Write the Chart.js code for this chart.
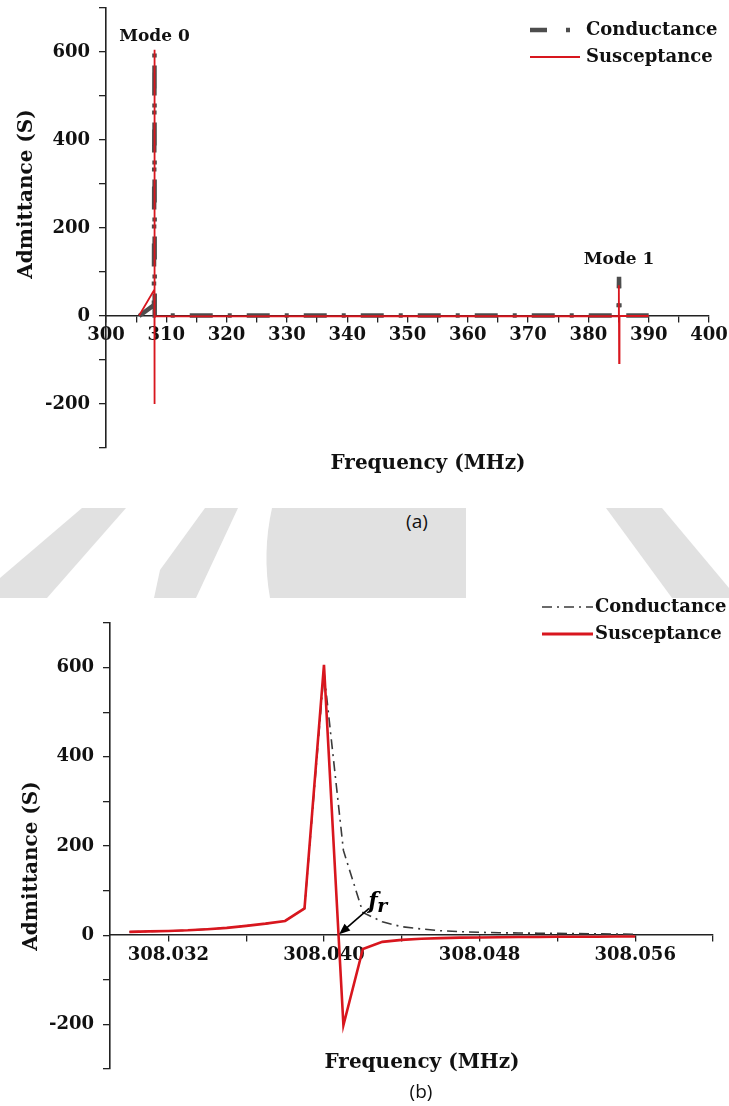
<!DOCTYPE html>
<html><head><meta charset="utf-8">
<script src="https://cdn.jsdelivr.net/npm/chart.js@4.4.1/dist/chart.umd.min.js"></script>
<style>
html,body{margin:0;padding:0;background:#fff;width:729px;height:1106px;overflow:hidden;}
body{position:relative;}
#wm{position:absolute;left:0;top:0;}
#c1{position:absolute;left:0;top:0;}
#c2{position:absolute;left:0;top:592px;}
.cap{position:absolute;font-family:'Open Sans';font-size:19px;color:#111;text-align:center;width:60px;line-height:26px;}
</style></head><body>
<svg id="wm" width="729" height="1106">
  <polygon points="82,508 126,508 47,598 0,598 0,578" fill="#e1e1e1"/>
  <polygon points="205,508 238,508 196,598 154,598 160,570" fill="#e1e1e1"/>
  <path d="M272,508 L466,508 L466,598 L270,598 Q262,553 272,508 Z" fill="#e1e1e1"/>
  <polygon points="606,508 662,508 729,588 729,598 672,598" fill="#e1e1e1"/>
</svg>
<canvas id="c1" width="729" height="500"></canvas>
<canvas id="c2" width="729" height="514"></canvas>
<div class="cap" style="left:387px;top:508px;">(a)</div>
<div class="cap" style="left:391px;top:1078px;">(b)</div>
<script>
// ---------- Chart (a): wide band ----------
const topCondFreq = [305.5, 307.95, 308.04, 308.08, 385.0, 385.08, 385.16, 390.0];
const topCondVal  = [0, 25, 600, 1, 1, 89, 1, 1];
const topSuscFreq = [305.5, 308.03, 308.04, 308.041, 308.08, 385.0, 385.05, 385.1, 385.16, 390.0];
const topSuscVal  = [1, 60, 605, -200, -1, 0, 70, -107, 0, 0];
const topXTicks   = [300,305,310,315,320,325,330,335,340,345,350,355,360,365,370,375,380,385,390,395,400];
const topXLabels  = [300,310,320,330,340,350,360,370,380,390,400];
const yTicks      = [-300,-200,-100,0,100,200,300,400,500,600,700];
const yLabels     = [-200,0,200,400,600];
const modeNames   = ['Mode 0','Mode 1'];
const modeFreq    = [308.04, 385.08];
const modeLabelY  = [635, 129];

// ---------- Chart (b): zoom on mode 0 ----------
const freqB = [308.030,308.031,308.032,308.033,308.034,308.035,308.036,308.037,308.038,308.039,
               308.040,308.041,308.042,308.043,308.044,308.045,308.046,308.047,308.048,308.049,
               308.050,308.051,308.052,308.053,308.054,308.055,308.056];
const suscB = [7.5,8.5,9.5,11,13.5,16.5,21,26,32,60,
               606,-202,-31,-15,-10.5,-8,-6.5,-5.5,-5,-4.5,
               -4,-4,-3.5,-3.5,-3.5,-3,-3];
const condB = [7.5,8.5,9.5,11,13.5,16.5,21,26,32,60,
               590,190,51,30,19,14,10,8,6.5,5.5,
               5,4.5,4,3.5,3,2.5,2];
const botXTicks  = [308.032,308.036,308.040,308.044,308.048,308.052,308.056,308.060];
const botXLabels = ['308.032','308.040','308.048','308.056'];
const frArrow    = {tipX:308.04078, tipY:2, tailX:308.04232, tailY:60, textX:308.04228, textY:62};

const RED = '#d8161e';
const SERIF = '"DejaVu Serif"';
const TXT = '#111';

function pts(xs, ys){ return xs.map((x,i)=>({x:x, y:ys[i]})); }

const deco = {
  id:'deco',
  afterDraw(chart, args, o){
    const ctx = chart.ctx;
    ctx.save();
    ctx.fillStyle = TXT;
    ctx.font = 'bold 20px ' + SERIF;
    ctx.textAlign = 'center'; ctx.textBaseline = 'middle';
    ctx.fillText(o.xTitle, o.xTitlePos[0], o.xTitlePos[1]);
    ctx.save();
    ctx.translate(o.yTitlePos[0], o.yTitlePos[1]);
    ctx.rotate(-Math.PI/2);
    ctx.fillText(o.yTitle, 0, 0);
    ctx.restore();
    const L = o.legend;
    L.order.forEach((di, k) => {
      const ds = chart.data.datasets[di];
      const y = L.y + k*L.dy;
      ctx.save();
      ctx.strokeStyle = ds.borderColor;
      ctx.lineWidth = L.lw[k];
      ctx.lineCap = 'butt';
      ctx.setLineDash(L.dash[k] || []);
      ctx.beginPath(); ctx.moveTo(L.x0, y); ctx.lineTo(L.x1[k], y); ctx.stroke();
      ctx.restore();
      ctx.fillStyle = TXT;
      ctx.font = 'bold 18px ' + SERIF;
      ctx.textAlign = 'left'; ctx.textBaseline = 'middle';
      ctx.fillText(ds.label, L.tx, y);
    });
    const xs = chart.scales.x, ys = chart.scales.y;
    if (o.modes) {
      ctx.font = 'bold 17px ' + SERIF;
      ctx.textAlign = 'center'; ctx.textBaseline = 'middle';
      o.modes.names.forEach((n,i)=>{
        ctx.fillText(n, xs.getPixelForValue(o.modes.freq[i]), ys.getPixelForValue(o.modes.y[i]));
      });
    }
    if (o.arrow) {
      const a = o.arrow;
      const x1 = xs.getPixelForValue(a.tailX), y1 = ys.getPixelForValue(a.tailY);
      const x2 = xs.getPixelForValue(a.tipX),  y2 = ys.getPixelForValue(a.tipY);
      const ang = Math.atan2(y2-y1, x2-x1);
      ctx.strokeStyle = '#000'; ctx.fillStyle = '#000'; ctx.lineWidth = 1.6;
      ctx.beginPath(); ctx.moveTo(x1,y1);
      ctx.lineTo(x2 - 8*Math.cos(ang), y2 - 8*Math.sin(ang)); ctx.stroke();
      ctx.beginPath();
      ctx.moveTo(x2, y2);
      ctx.lineTo(x2 - 11*Math.cos(ang) + 4.5*Math.sin(ang), y2 - 11*Math.sin(ang) - 4.5*Math.cos(ang));
      ctx.lineTo(x2 - 11*Math.cos(ang) - 4.5*Math.sin(ang), y2 - 11*Math.sin(ang) + 4.5*Math.cos(ang));
      ctx.closePath(); ctx.fill();
      const tx = xs.getPixelForValue(a.textX), ty = ys.getPixelForValue(a.textY);
      ctx.textAlign = 'left'; ctx.textBaseline = 'alphabetic';
      ctx.font = 'italic bold 22px ' + SERIF;
      ctx.fillText('f', tx, ty);
      ctx.font = 'italic bold 19px ' + SERIF;
      ctx.fillText('r', tx + 9, ty + 4);
    }
    ctx.restore();
  }
};

function axisFont(){ return {family:'DejaVu Serif', weight:'bold', size:18}; }

function makeScales(xMin, xMax, xTicks, xLabelFn, yWidth){
  return {
    x: {
      type:'linear', position:{y:0}, min:xMin, max:xMax,
      afterBuildTicks: ax => { ax.ticks = xTicks.map(v=>({value:v})); },
      afterFit: ax => { ax.paddingLeft = 0; ax.paddingRight = 0; },
      ticks: { autoSkip:false, maxRotation:0, minRotation:0, color:TXT, padding:3, font:axisFont(), callback: xLabelFn },
      grid: { drawOnChartArea:false, drawTicks:true, tickLength:6, color:'#222', lineWidth:1.3 },
      border: { display:true, color:'#222', width:1.6 }
    },
    y: {
      type:'linear', position:'left', min:-300, max:700,
      afterBuildTicks: ax => { ax.ticks = yTicks.map(v=>({value:v})); },
      afterFit: ax => { ax.width = yWidth; ax.paddingTop = 0; ax.paddingBottom = 0; },
      ticks: { autoSkip:false, color:TXT, padding:9, font:axisFont(),
               callback: v => yLabels.includes(v) ? String(v) : '' },
      grid: { drawOnChartArea:false, drawTicks:true, tickLength:7, color:'#222', lineWidth:1.3 },
      border: { display:true, color:'#222', width:1.6 }
    }
  };
}

new Chart(document.getElementById('c1'), {
  type:'line',
  data:{ datasets:[
    { label:'Conductance', data:pts(topCondFreq, topCondVal), borderColor:'#4d4d4d', borderWidth:4.5,
      borderDash:[23,15,4,15], borderCapStyle:'butt', pointRadius:0, tension:0, order:2 },
    { label:'Susceptance', data:pts(topSuscFreq, topSuscVal), borderColor:RED, borderWidth:1.8,
      pointRadius:0, tension:0, order:1 }
  ]},
  options:{
    responsive:false, animation:false, devicePixelRatio:1,
    layout:{ padding:{ top:8, bottom:52, left:0, right:20 } },
    plugins:{ legend:{display:false}, tooltip:{enabled:false},
      deco:{ xTitle:'Frequency (MHz)', xTitlePos:[428,464], yTitle:'Admittance (S)', yTitlePos:[27,194],
             legend:{ order:[0,1], x0:530, x1:[572,580], tx:586, y:30, dy:27, lw:[4.5,1.8], dash:[[17,19,4,100],[]] },
             modes:{ names:modeNames, freq:modeFreq, y:modeLabelY } } },
    scales: makeScales(300, 400, topXTicks, v => topXLabels.includes(v) ? String(v) : '', 106)
  },
  plugins:[deco]
});

new Chart(document.getElementById('c2'), {
  type:'line',
  data:{ datasets:[
    { label:'Conductance', data:pts(freqB, condB), borderColor:'#3a3a3a', borderWidth:1.6,
      borderDash:[10,5,2,5], borderCapStyle:'butt', pointRadius:0, tension:0, order:2 },
    { label:'Susceptance', data:pts(freqB, suscB), borderColor:RED, borderWidth:2.6,
      pointRadius:0, tension:0, order:1 }
  ]},
  options:{
    responsive:false, animation:false, devicePixelRatio:1,
    layout:{ padding:{ top:31, bottom:37, left:0, right:16 } },
    plugins:{ legend:{display:false}, tooltip:{enabled:false},
      deco:{ xTitle:'Frequency (MHz)', xTitlePos:[422,471], yTitle:'Admittance (S)', yTitlePos:[32,274],
             legend:{ order:[0,1], x0:542, x1:[593,593], tx:595, y:15, dy:27, lw:[1.6,2.8], dash:[[10,5,2,5],[]] },
             arrow: frArrow } },
    scales: makeScales(308.029, 308.060, botXTicks,
      v => { const s = v.toFixed(3); return botXLabels.includes(s) ? s : ''; }, 110)
  },
  plugins:[deco]
});
</script>
</body></html>
